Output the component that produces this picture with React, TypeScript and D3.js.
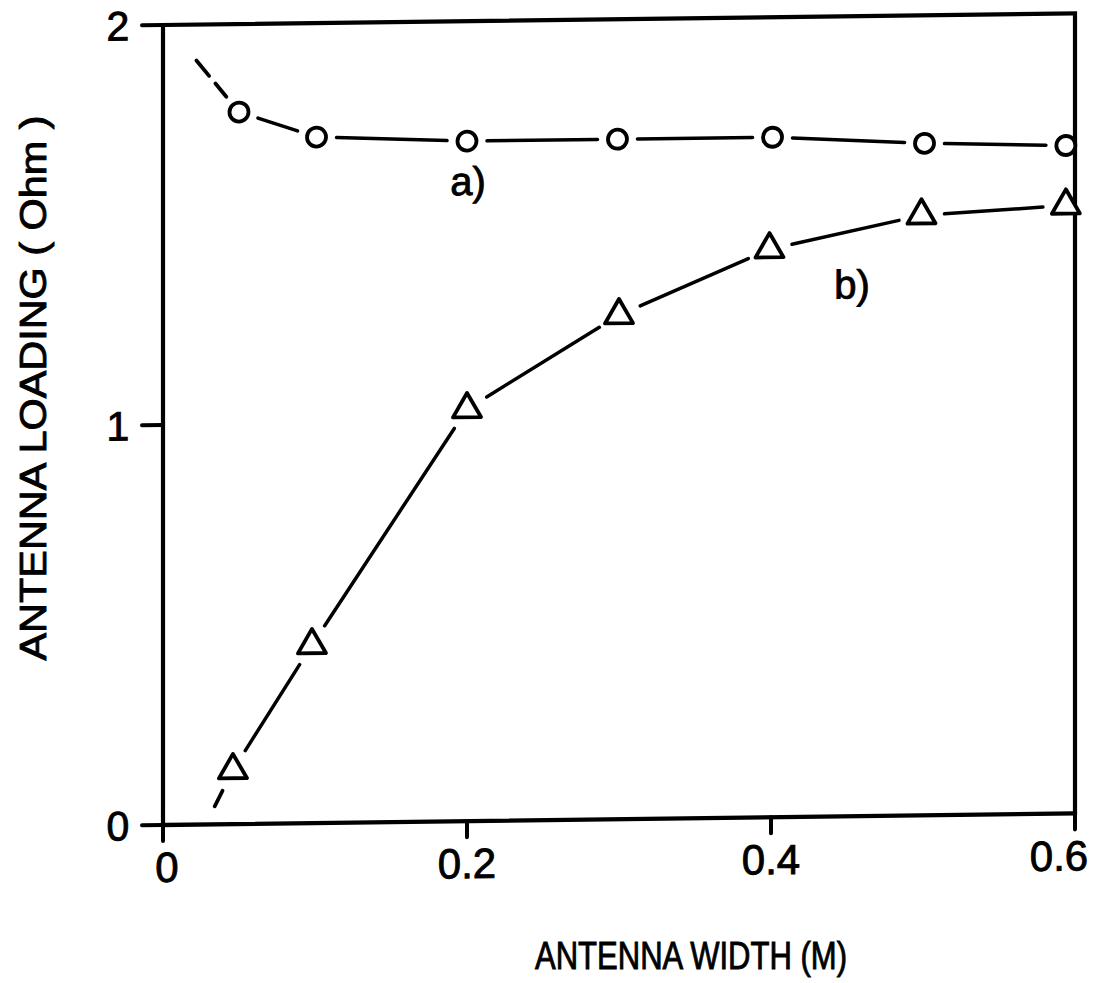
import React from "react";
import * as d3 from "d3";

// Curve a): antenna width (m) and loading (Ohm), circles
const widthsA: number[] = [0.05, 0.101, 0.2, 0.299, 0.401, 0.501, 0.594];
const loadingA: number[] = [1.78, 1.715, 1.7, 1.7, 1.7, 1.68, 1.67];
// Curve b): antenna width (m) and loading (Ohm), triangles
const widthsB: number[] = [0.046, 0.098, 0.2, 0.3, 0.399, 0.499, 0.594];
const loadingB: number[] = [0.135, 0.445, 1.03, 1.26, 1.42, 1.5, 1.52];
// Dashed extrapolated lead-in for each curve: [width, loading]
const leadA: [number, number] = [0.022, 1.91];
const leadB: [number, number] = [0.034, 0.045];

const xTicks: number[] = [0, 0.2, 0.4, 0.6];
const xTickLabels: string[] = ["0", "0.2", "0.4", "0.6"];
const yTicks: number[] = [0, 1, 2];
const yTickLabels: string[] = ["0", "1", "2"];

const W = 1094;
const H = 983;
const X0 = 163;
const X1 = 1075;
const Y0 = 825;
const Y1 = 25;
const FONT = "'Liberation Sans', Arial, Helvetica, sans-serif";

const x = d3.scaleLinear().domain([0, 0.6]).range([X0, X1]);
const y = d3.scaleLinear().domain([0, 2]).range([Y0, Y1]);

type Pt = [number, number];

// Segment between two points, trimmed so the line stops short of each marker
function trimmed(a: Pt, b: Pt, gapA: number, gapB: number): Pt[] {
  const dx = b[0] - a[0];
  const dy = b[1] - a[1];
  const len = Math.hypot(dx, dy);
  const ux = dx / len;
  const uy = dy / len;
  return [
    [a[0] + ux * gapA, a[1] + uy * gapA],
    [b[0] - ux * gapB, b[1] - uy * gapB],
  ];
}

const line = d3.line<Pt>();

function Series({
  widths,
  values,
  lead,
  gap,
  dash,
  marker,
}: {
  widths: number[];
  values: number[];
  lead: [number, number];
  gap: number;
  dash: string;
  marker: (p: Pt, i: number) => React.ReactNode;
}) {
  const pts: Pt[] = widths.map((w, i) => [x(w), y(values[i])]);
  const leadPt: Pt = [x(lead[0]), y(lead[1])];
  const segs: Pt[][] = [];
  for (let i = 0; i < pts.length - 1; i++) {
    segs.push(trimmed(pts[i], pts[i + 1], gap, gap));
  }
  const leadSeg = trimmed(leadPt, pts[0], 0, gap);
  return (
    <g>
      <path
        d={line(leadSeg) || ""}
        fill="none"
        stroke="#000"
        strokeWidth={3.8}
        strokeLinecap="round"
        strokeDasharray={dash}
      />
      {segs.map((s, i) => (
        <path
          key={i}
          d={line(s) || ""}
          fill="none"
          stroke="#000"
          strokeWidth={3.5}
          strokeLinecap="round"
        />
      ))}
      {pts.map((p, i) => marker(p, i))}
    </g>
  );
}

const triangle = d3.symbol().type(d3.symbolTriangle).size(340);

const textInk = { fill: "#000", stroke: "#000", strokeWidth: 0.9 };

export default function App() {
  // the whole frame leans slightly upward to the right
  const shear = `translate(${X0},0) skewY(-0.73) translate(${-X0},0)`;
  return (
    <svg
      width={W}
      height={H}
      viewBox={`0 0 ${W} ${H}`}
      style={{ position: "absolute", left: 0, top: 0, background: "#fff" }}
    >
      <rect x={0} y={0} width={W} height={H} fill="#fff" />
      <g transform={shear}>
        {/* frame */}
        <rect
          x={X0}
          y={Y1}
          width={X1 - X0}
          height={Y0 - Y1}
          fill="none"
          stroke="#000"
          strokeWidth={4.2}
        />
        {/* y ticks */}
        {yTicks.map((t, i) => (
          <g key={`y${i}`}>
            <line
              x1={X0 - 21}
              x2={X0}
              y1={y(t)}
              y2={y(t)}
              stroke="#000"
              strokeWidth={4}
              strokeLinecap="round"
            />
            <text
              x={118}
              y={y(t)}
              dy="0.36em"
              textAnchor="middle"
              fontFamily={FONT}
              fontSize={41}
              {...textInk}
            >
              {yTickLabels[i]}
            </text>
          </g>
        ))}
        {/* x ticks */}
        {xTicks.map((t, i) => (
          <g key={`x${i}`}>
            <line
              x1={x(t)}
              x2={x(t)}
              y1={Y0}
              y2={Y0 + 16}
              stroke="#000"
              strokeWidth={4}
              strokeLinecap="round"
            />
            <text
              x={x(t) + (i === 0 ? 4 : i === 3 ? -16 : 0)}
              y={Y0 + 57}
              textAnchor="middle"
              fontFamily={FONT}
              fontSize={42}
              {...textInk}
            >
              {xTickLabels[i]}
            </text>
          </g>
        ))}

        <Series
          widths={widthsA}
          values={loadingA}
          lead={leadA}
          gap={20}
          dash="20 10"
          marker={(p, i) => (
            <circle
              key={i}
              cx={p[0]}
              cy={p[1]}
              r={9.5}
              fill="#fff"
              stroke="#000"
              strokeWidth={3.8}
            />
          )}
        />
        <Series
          widths={widthsB}
          values={loadingB}
          lead={leadB}
          gap={23}
          dash="24 12"
          marker={(p, i) => (
            <path
              key={i}
              d={triangle() || ""}
              transform={`translate(${p[0]},${p[1]})`}
              fill="#fff"
              stroke="#000"
              strokeWidth={3.8}
              strokeLinejoin="round"
            />
          )}
        />

        <text x={468} y={199} textAnchor="middle" fontFamily={FONT} fontSize={40} {...textInk}>
          a)
        </text>
        <text x={852} y={307} textAnchor="middle" fontFamily={FONT} fontSize={40} {...textInk}>
          b)
        </text>
      </g>

      {/* axis titles */}
      <text
        x={691}
        y={969}
        textAnchor="middle"
        fontFamily={FONT}
        fontSize={38}
        textLength={312}
        lengthAdjust="spacingAndGlyphs"
        {...textInk}
      >
        ANTENNA WIDTH (M)
      </text>
      <text
        transform="translate(46,388) rotate(-90)"
        textAnchor="middle"
        fontFamily={FONT}
        fontSize={36}
        textLength={545}
        lengthAdjust="spacingAndGlyphs"
        {...textInk}
      >
        ANTENNA LOADING ( Ohm )
      </text>
    </svg>
  );
}
